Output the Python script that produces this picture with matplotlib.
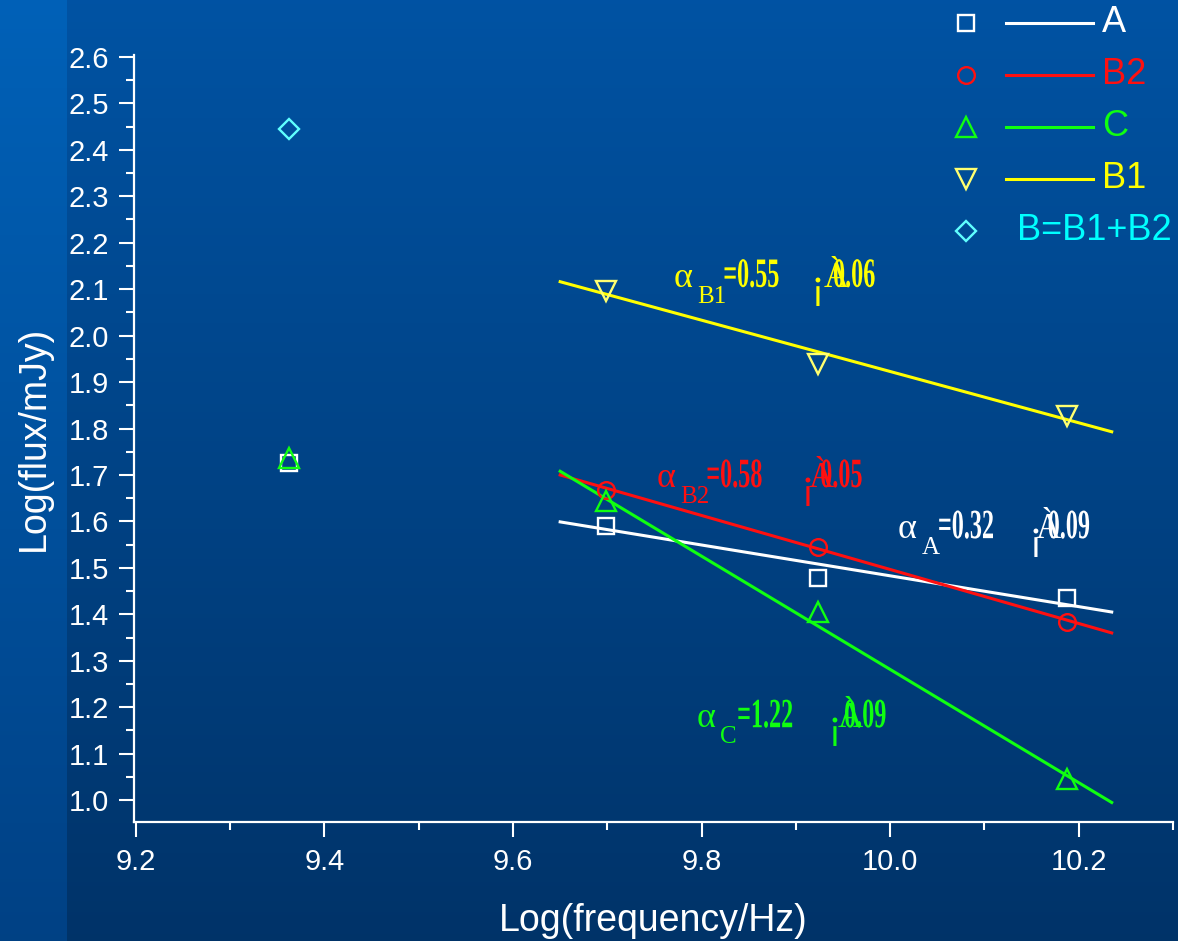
import matplotlib
matplotlib.use('Agg')
import matplotlib.pyplot as plt
import matplotlib.transforms as mtransforms
from matplotlib.lines import Line2D
from matplotlib.patches import PathPatch
from matplotlib.textpath import TextPath
from matplotlib.font_manager import FontProperties
from matplotlib.ticker import MultipleLocator, FormatStrFormatter
import numpy as np

plt.rcParams['font.family'] = 'Liberation Sans'

# measured points: log frequency (Hz) vs log flux density (mJy)
freq = [9.362, 9.699, 9.924, 10.188]
flux_A = [1.726, 1.590, 1.478, 1.435]
flux_B2 = [np.nan, 1.668, 1.545, 1.383]
flux_C = [1.737, 1.644, 1.405, 1.045]
flux_B1 = [np.nan, 2.096, 1.939, 1.827]
flux_B = [2.445, np.nan, np.nan, np.nan]

# power-law fits over the 5-15 GHz range
fit_x = [9.65, 10.235]
fit_A = [1.599, 1.405]
fit_B2 = [1.700, 1.360]
fit_C = [1.708, 0.995]
fit_B1 = [2.116, 1.793]

# spectral index annotations
idx_names = ['B1', 'B2', 'A', 'C']
idx_vals = ['0.55', '0.58', '0.32', '1.22']
idx_errs = ['0.06', '0.05', '0.09', '0.09']
idx_x = [9.770, 9.752, 10.008, 9.795]
idx_y = [2.105, 1.674, 1.564, 1.157]
# x offsets (points) of value, inverted bang, A-grave and error after the alpha
idx_dx = [(36, 99, 108, 115), (36, 104, 110, 118),
          (29, 94, 99, 108), (29, 94, 101, 106)]

W, H = 1178, 941
fig = plt.figure(figsize=(W / 100, H / 100), dpi=100)

# background: vertical blue gradient, lighter strip on the left
bg = fig.add_axes([0, 0, 1, 1])
bg.axis('off')
t = np.linspace(0, 1, 256)[:, None]
top, bot = np.array([0.0, 0.325, 0.64]), np.array([0.0, 0.20, 0.41])
stop, sbot = np.array([0.0, 0.38, 0.72]), np.array([0.0, 0.255, 0.52])
cols = np.arange(W)[None, :]
main = top + (bot - top) * t[..., None]
strip = stop + (sbot - stop) * t[..., None]
img = np.where((cols < 67)[..., None], strip, main)
bg.imshow(img, extent=[0, 1, 0, 1], aspect='auto', origin='upper')

ax = fig.add_axes([134 / W, 1 - 822 / H, (1173 - 134) / W, (822 - 55) / H])
ax.patch.set_alpha(0)

series = [
    (flux_A, fit_A, 's', 12, 'white', 'white'),
    (flux_B2, fit_B2, 'o', 12, '#ff1010', '#ff1010'),
    (flux_C, fit_C, '^', 14, '#10ff10', '#10ff10'),
    (flux_B1, fit_B1, 'v', 14, '#ffff00', '#ffff70'),
]
for flux, fit, mk, ms, lc, mc in series:
    ax.plot(fit_x, fit, '-', color=lc, lw=2.2, zorder=2)
    ax.plot(freq, flux, mk, ms=ms, mfc='none', mec=mc, mew=1.7, zorder=3)
ax.plot(freq, flux_B, 'D', ms=10, mfc='none', mec='#60ffff', mew=1.7, zorder=3)

ax.set_xlim(9.198, 10.3)
ax.set_ylim(0.953, 2.604)
ax.xaxis.set_major_locator(MultipleLocator(0.2))
ax.xaxis.set_minor_locator(MultipleLocator(0.1))
ax.yaxis.set_major_locator(MultipleLocator(0.1))
ax.yaxis.set_minor_locator(MultipleLocator(0.05))
ax.xaxis.set_major_formatter(FormatStrFormatter('%.1f'))
ax.yaxis.set_major_formatter(FormatStrFormatter('%.1f'))
for sp in ('top', 'right'):
    ax.spines[sp].set_visible(False)
for sp in ('left', 'bottom'):
    ax.spines[sp].set_color('white')
    ax.spines[sp].set_linewidth(1.6)
ax.tick_params(which='both', direction='out', colors='white', width=1.5)
ax.tick_params(which='major', length=11, labelsize=21)
ax.tick_params(which='minor', length=6)
ax.tick_params(axis='y', pad=7)
ax.tick_params(axis='x', pad=8)

ax.set_xlabel('Log(frequency/Hz)', color='white', fontsize=27, labelpad=19)
ax.set_ylabel('Log(flux/mJy)', color='white', fontsize=27, labelpad=12)

k = fig.dpi / 72
narrow = FontProperties(family='Liberation Serif', weight='bold')


def squeezed(s, x, y, dx, size, color, sx=0.58):
    # tall, horizontally compressed text anchored at a data point plus a point offset
    tp = TextPath((0, 0), s, size=size, prop=narrow)
    tr = (mtransforms.Affine2D().scale(sx * k, k).translate(dx * k, 0)
          + mtransforms.ScaledTranslation(x, y, ax.transData))
    ax.add_patch(PathPatch(tp, fc=color, ec='none', transform=tr, clip_on=False))


# spectral index labels, pieced together
colors_idx = ['#ffff00', '#ff1010', 'white', '#10ff10']
for name, val, err, x, y, c, dx in zip(idx_names, idx_vals, idx_errs, idx_x, idx_y,
                                       colors_idx, idx_dx):
    kw = dict(xy=(x, y), xycoords='data', textcoords='offset points',
              color=c, ha='left', va='baseline', family='Liberation Serif')
    ax.annotate('\u03b1', xytext=(0, 0), fontsize=26, **kw)
    ax.annotate(name, xytext=(17, -11.5), fontsize=18, **kw)
    squeezed('=' + val, x, y, dx[0], 30, c)
    ax.annotate('\u00a1', xytext=(dx[1], -7), fontsize=30, **kw)
    ax.annotate('\u00c0', xytext=(dx[2], 0), fontsize=25, **kw)
    squeezed(err, x, y, dx[3], 30, c)

# legend drawn by hand in figure pixels
leg_labels = ['A', 'B2', 'C', 'B1', 'B=B1+B2']
leg_marks = ['s', 'o', '^', 'v', 'D']
leg_ms = [12, 12, 14, 14, 10]
leg_lines = ['white', '#ff1010', '#10ff10', '#ffff00', None]
leg_mfc = ['white', '#ff1010', '#10ff10', '#ffff70', '#60ffff']
leg_text = ['white', '#ff1010', '#10ff10', '#ffff00', '#00ffff']
rows = [23, 75, 127, 179, 231]
for lab, mk, ms, lc, mc, tc, yy in zip(leg_labels, leg_marks, leg_ms, leg_lines,
                                       leg_mfc, leg_text, rows):
    fy = 1 - yy / H
    fig.add_artist(Line2D([966 / W], [fy], transform=fig.transFigure, marker=mk,
                          ms=ms, mfc='none', mec=mc, mew=1.7, ls='none'))
    if lc is not None:
        fig.add_artist(Line2D([1006 / W, 1093 / W], [fy, fy], transform=fig.transFigure,
                              color=lc, lw=2.2))
        fig.text(1102 / W, fy, lab, color=tc, fontsize=26, ha='left', va='center')
    else:
        fig.text(1017 / W, fy, lab, color=tc, fontsize=26, ha='left', va='center')

fig.savefig('out.png', dpi=100)
